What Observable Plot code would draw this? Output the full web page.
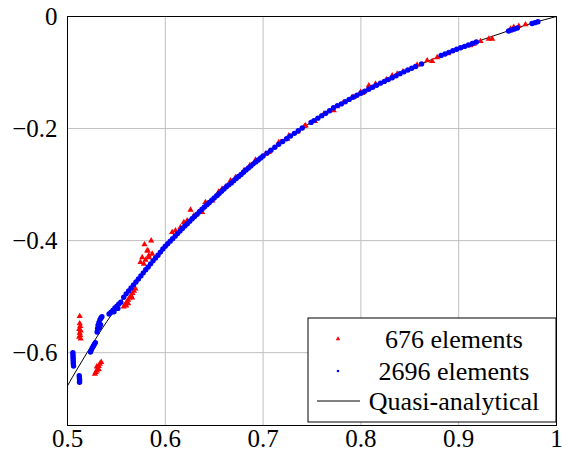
<!DOCTYPE html>
<html>
<head>
<meta charset="utf-8">
<script src="https://cdn.jsdelivr.net/npm/d3@7"></script>
<script src="https://cdn.jsdelivr.net/npm/@observablehq/plot@0.6"></script>
<style>
  html, body { margin: 0; padding: 0; background: #fff; }
  #chart { width: 562px; height: 459px; }
  #chart svg, #chart svg text { font-family: "Liberation Serif", serif !important; }
</style>
</head>
<body>
<div id="chart"></div>
<script>
const xTicks = [0.5, 0.6, 0.7, 0.8, 0.9, 1];
const yTicks = [0, -0.2, -0.4, -0.6];
const legendLabels = ["676 elements", "2696 elements", "Quasi-analytical"];

// Quasi-analytical curve
const curveX = [0.5, 0.51, 0.52, 0.53, 0.54, 0.55, 0.56, 0.575, 0.6, 0.625, 0.65, 0.675, 0.7, 0.725, 0.75, 0.775, 0.8, 0.825, 0.85, 0.875, 0.9, 0.925, 0.95, 0.975, 1.0];
const curveY = [-0.659, -0.629, -0.600, -0.572, -0.545, -0.520, -0.495, -0.463, -0.410, -0.3655, -0.324, -0.2855, -0.249, -0.217, -0.188, -0.161, -0.137, -0.115, -0.094, -0.075, -0.057, -0.041, -0.026, -0.012, 0];

// 676 elements (red triangles)
const redPts = [
  [0.5125,-0.535],[0.5125,-0.548],[0.5130,-0.553],[0.5120,-0.558],[0.5135,-0.561],[0.5125,-0.565],[0.5130,-0.569],[0.5120,-0.572],[0.5135,-0.575],
  [0.5345,-0.617],[0.5330,-0.620],[0.5320,-0.624],[0.5310,-0.628],[0.5300,-0.632],[0.5290,-0.635],[0.5280,-0.638],[0.5320,-0.630],[0.5300,-0.625],
  [0.5575,-0.518],[0.5590,-0.514],[0.5605,-0.510],[0.5620,-0.506],[0.5635,-0.502],[0.5650,-0.498],[0.5665,-0.494],[0.5680,-0.490],[0.5695,-0.486],[0.5620,-0.512],[0.5660,-0.502],[0.5600,-0.516],
  [0.5856,-0.400],[0.5787,-0.407],[0.5822,-0.418],[0.5764,-0.430],[0.5798,-0.4345],[0.5746,-0.4387],[0.5831,-0.4268],[0.5866,-0.4238],[0.5780,-0.4416],[0.5815,-0.418],[0.5830,-0.430],
  [0.6258,-0.3452],[0.6070,-0.385],[0.6104,-0.3821],[0.6155,-0.3762],[0.6190,-0.3673],[0.6224,-0.3643],[0.6292,-0.3554],[0.6343,-0.3494],[0.6377,-0.3494],[0.6428,-0.3345],[0.6480,-0.3286],[0.6530,-0.3196],
  [0.6410,-0.3315],[0.6545,-0.313],[0.6580,-0.3077],[0.6620,-0.303],[0.6667,-0.2929],[0.6718,-0.287],[0.6735,-0.287],[0.6805,-0.2745],[0.6865,-0.2655],
  [0.6922,-0.2560],[0.7025,-0.2452],[0.7058,-0.2423],[0.7160,-0.2244],[0.7180,-0.2244],[0.7250,-0.2185],[0.7263,-0.2125],[0.7350,-0.206],[0.7423,-0.1959],[0.7434,-0.1946],
  [0.7530,-0.187],[0.7621,-0.1738],[0.7723,-0.1679],[0.7757,-0.1607],[0.7820,-0.1535],[0.7910,-0.144],[0.7927,-0.1440],[0.7996,-0.1351],[0.8013,-0.1369],[0.8081,-0.1232],
  [0.8149,-0.1202],[0.8260,-0.1125],[0.8320,-0.1054],[0.8371,-0.1024],[0.8430,-0.0985],[0.8575,-0.0863],[0.8678,-0.0786],[0.8729,-0.0798],[0.8780,-0.073],[0.8890,-0.066],
  [0.9120,-0.0518],[0.9155,-0.0488],[0.9223,-0.0441],[0.9308,-0.0399],[0.9342,-0.0399],
  [0.9530,-0.022],[0.9563,-0.0191],[0.9615,-0.0173],[0.9683,-0.0143]
];

// 2696 elements (blue dots)
const bluePts = [
  [0.5055,-0.600],[0.5056,-0.604],[0.5057,-0.608],[0.5058,-0.612],[0.5059,-0.616],[0.5060,-0.620],[0.5062,-0.624],
  [0.5120,-0.641],[0.5122,-0.645],[0.5124,-0.649],[0.5123,-0.653],
  [0.5235,-0.599],[0.5245,-0.595],[0.5255,-0.591],[0.5265,-0.588],[0.5275,-0.585],[0.5285,-0.582],
  [0.5303,-0.563],[0.5308,-0.557],[0.5313,-0.551],[0.5322,-0.546],[0.5332,-0.541],[0.5342,-0.538],[0.5352,-0.536],[0.5325,-0.556],[0.5338,-0.550],
  [0.5425,-0.531],[0.5445,-0.528],[0.5465,-0.524],[0.5485,-0.520],[0.5505,-0.517],[0.5525,-0.513],[0.5545,-0.510],[0.5475,-0.527],[0.5515,-0.521],
  [0.5575,-0.501],[0.5600,-0.495],[0.5625,-0.490],[0.5650,-0.4845],[0.5675,-0.479],[0.5700,-0.474],[0.5725,-0.4685],[0.5750,-0.463],[0.5775,-0.4575],
  [0.5800,-0.452],[0.5825,-0.447],[0.5850,-0.4415],[0.5875,-0.436],[0.5900,-0.431],[0.5925,-0.426],[0.5950,-0.4205],[0.5975,-0.415],
  [0.6000,-0.410],[0.6025,-0.4055],[0.6050,-0.401],[0.6075,-0.3965],[0.6100,-0.392],[0.6125,-0.3875],[0.6150,-0.383],[0.6175,-0.3785],
  [0.6200,-0.374],[0.6225,-0.370],[0.6250,-0.3655],[0.6275,-0.361],[0.6300,-0.357],[0.6325,-0.353],[0.6350,-0.3485],[0.6375,-0.344],
  [0.6400,-0.340],[0.6425,-0.336],[0.6450,-0.332],[0.6475,-0.328],[0.6500,-0.324],[0.6525,-0.320],[0.6550,-0.316],[0.6575,-0.312],
  [0.6600,-0.308],[0.6625,-0.304],[0.6650,-0.3005],[0.6675,-0.297],[0.6700,-0.293],[0.6725,-0.289],[0.6750,-0.2855],[0.6775,-0.282],
  [0.6800,-0.278],[0.6825,-0.274],[0.6850,-0.2705],[0.6875,-0.267],[0.6900,-0.263],[0.6925,-0.2595],[0.6950,-0.256],[0.6975,-0.2525],
  [0.700,-0.249],[0.704,-0.2438],[0.708,-0.2386],[0.712,-0.2334],[0.716,-0.2282],[0.720,-0.223],[0.724,-0.2182],[0.728,-0.2134],[0.732,-0.2086],[0.736,-0.2038],[0.740,-0.199],
  [0.749,-0.189],[0.752,-0.1858],[0.756,-0.1814],[0.760,-0.177],[0.764,-0.1726],[0.768,-0.1682],[0.772,-0.163],[0.776,-0.159],[0.780,-0.156],[0.784,-0.152],[0.788,-0.148],
  [0.792,-0.1442],[0.796,-0.1406],[0.800,-0.137],[0.804,-0.1334],[0.808,-0.1298],[0.812,-0.1262],[0.816,-0.1226],[0.820,-0.119],[0.824,-0.1158],[0.828,-0.1126],
  [0.832,-0.1093],[0.836,-0.1059],[0.840,-0.102],[0.844,-0.0988],[0.848,-0.0956],[0.852,-0.0924],[0.856,-0.0892],[0.862,-0.0846],
  [0.882,-0.0696],[0.886,-0.0668],[0.890,-0.064],[0.894,-0.0612],[0.898,-0.0584],[0.902,-0.0558],[0.906,-0.0534],[0.910,-0.051],[0.914,-0.0482],[0.918,-0.0454],
  [0.951,-0.0258],[0.954,-0.024],[0.957,-0.0222],[0.960,-0.0205],
  [0.975,-0.0125],[0.978,-0.011],[0.981,-0.0095]
];

const curve = curveX.map((x, i) => ({x, y: curveY[i]}));
const red = redPts.map(([x, y]) => ({x, y}));
const blue = bluePts.map(([x, y]) => ({x, y}));

const fmtX = d => d === 1 ? "1" : d.toFixed(1);
const fmtY = d => d === 0 ? "0" : "\u2212" + Math.abs(d).toFixed(1);

const FONT = "Liberation Serif, serif";
const W = 562, H = 459;
const plot = Plot.plot({
  width: W,
  height: H,
  marginLeft: 67,
  marginRight: 6,
  marginTop: 16,
  marginBottom: 34,
  style: {fontFamily: FONT, fontSize: "25px", background: "#fff", color: "#000"},
  x: {domain: [0.5, 1], ticks: xTicks, tickFormat: fmtX, tickSize: 0, tickPadding: 4, label: null},
  y: {domain: [-0.73, 0], ticks: yTicks, tickFormat: fmtY, tickSize: 0, tickPadding: 10, label: null},
  marks: [
    Plot.gridX(xTicks, {stroke: "#bfbfbf", strokeOpacity: 1, strokeWidth: 1}),
    Plot.gridY(yTicks, {stroke: "#bfbfbf", strokeOpacity: 1, strokeWidth: 1}),
    Plot.line(curve, {x: "x", y: "y", stroke: "black", strokeWidth: 1, curve: "monotone-x"}),
    Plot.dot(red, {x: "x", y: "y", symbol: "triangle", r: 2.3, fill: "#ff0000", stroke: "none"}),
    Plot.dot(blue, {x: "x", y: "y", symbol: "circle", r: 2.7, fill: "#0000ff", stroke: "none"}),
    Plot.frame({stroke: "black", strokeWidth: 1})
  ]
});
document.getElementById("chart").appendChild(plot);

// Legend box (bottom-right, inside the plot frame)
const svg = d3.select(plot);
const g = svg.append("g").attr("font-family", FONT).attr("font-size", 26);
const lx = 308, ly = 318, lw = 248, lh = 104;
g.append("rect").attr("x", lx).attr("y", ly).attr("width", lw).attr("height", lh)
  .attr("fill", "white").attr("stroke", "black").attr("stroke-width", 1);
const rows = [339, 371, 401];
g.append("path").attr("d", d3.symbol(d3.symbolTriangle, 9)()).attr("transform", `translate(338,${rows[0]})`).attr("fill", "#ff0000");
g.append("circle").attr("cx", 338).attr("cy", rows[1]).attr("r", 1.3).attr("fill", "#0000ff");
g.append("line").attr("x1", 317).attr("x2", 360).attr("y1", rows[2]).attr("y2", rows[2]).attr("stroke", "black").attr("stroke-width", 1);
legendLabels.forEach((t, i) => {
  g.append("text").attr("x", 454).attr("y", rows[i]).attr("dy", "0.35em").attr("text-anchor", "middle").attr("fill", "black").text(t);
});
</script>
</body>
</html>
